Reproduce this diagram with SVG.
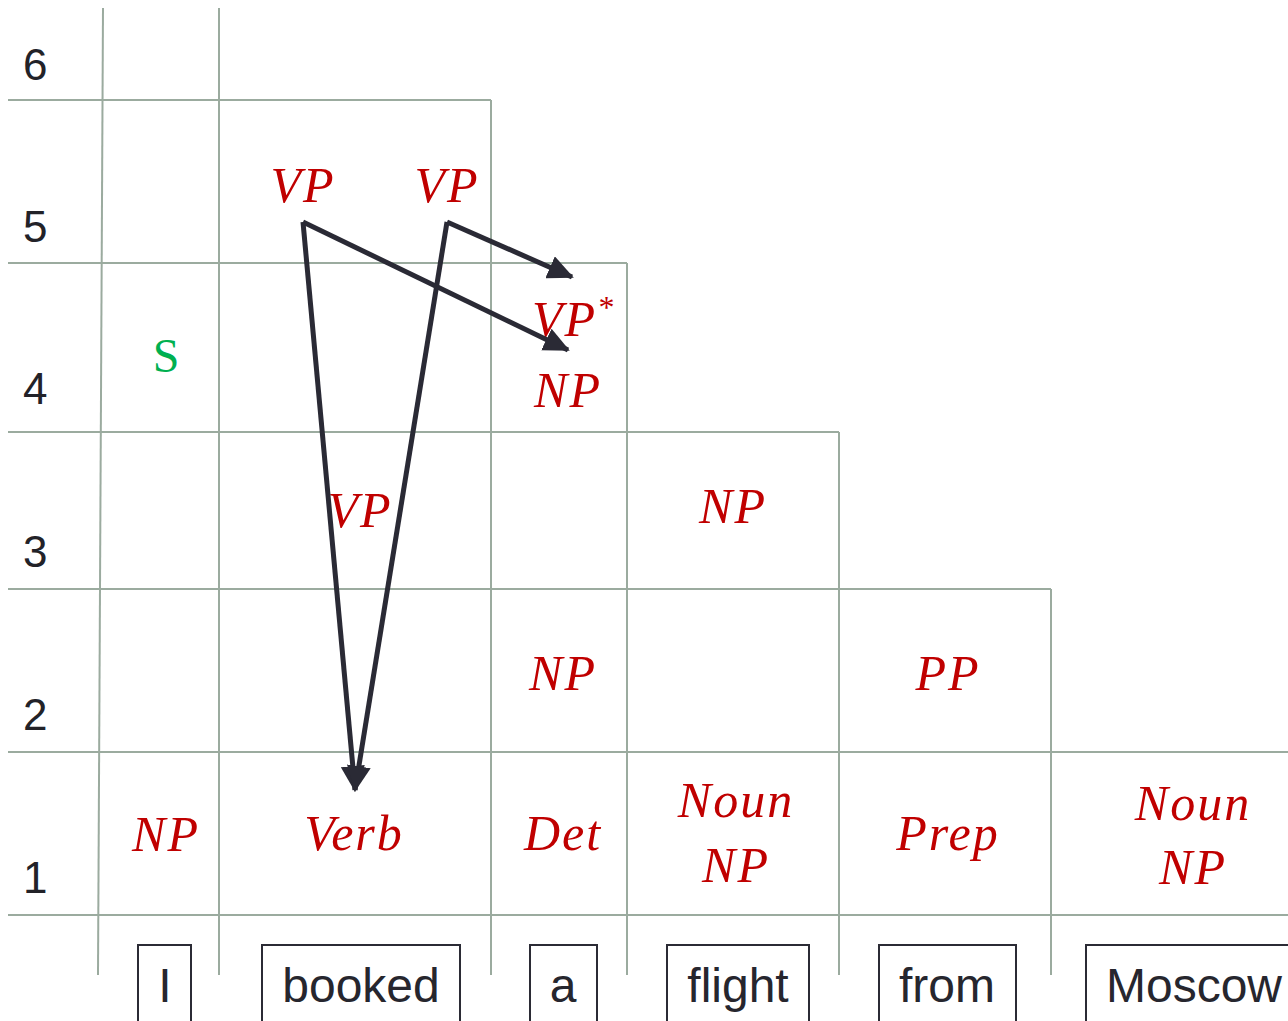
<svg xmlns="http://www.w3.org/2000/svg" width="1288" height="1021" viewBox="0 0 1288 1021">
<defs>
<style>
.g{stroke:#9bab9f;stroke-width:2;fill:none}
.num{font-family:"Liberation Sans",Arial,sans-serif;font-size:44px;fill:#222228}
.lab{font-family:"Liberation Serif","DejaVu Serif",serif;font-style:italic;font-size:50px;fill:#c00000;text-anchor:middle;letter-spacing:2px}
.w{font-family:"Liberation Sans",Arial,sans-serif;font-size:48px;fill:#26262e;text-anchor:middle}
.box{fill:none;stroke:#2b2b35;stroke-width:2}
.arr{stroke:#2a2a35;stroke-width:5;fill:none}
</style>
<marker id="ah" markerUnits="userSpaceOnUse" markerWidth="28" markerHeight="24" refX="24" refY="12" orient="auto" viewBox="0 0 28 24">
<path d="M0,0 L26,12 L0,24 z" fill="#2a2a35"/>
</marker>
</defs>
<rect width="1288" height="1021" fill="#fff"/>
<g id="grid">
<line class="g" x1="103" y1="8" x2="98" y2="975"/>
<line class="g" x1="219" y1="8" x2="219" y2="975"/>
<line class="g" x1="491" y1="100" x2="491" y2="975"/>
<line class="g" x1="627" y1="263" x2="627" y2="975"/>
<line class="g" x1="839" y1="432" x2="839" y2="975"/>
<line class="g" x1="1051" y1="589" x2="1051" y2="975"/>
<line class="g" x1="8" y1="100" x2="491" y2="100"/>
<line class="g" x1="8" y1="263" x2="627" y2="263"/>
<line class="g" x1="8" y1="432" x2="839" y2="432"/>
<line class="g" x1="8" y1="589" x2="1051" y2="589"/>
<line class="g" x1="8" y1="752" x2="1288" y2="752"/>
<line class="g" x1="8" y1="915" x2="1288" y2="915"/>
</g>
<g id="rows">
<text class="num" x="23" y="80">6</text>
<text class="num" x="23" y="242">5</text>
<text class="num" x="23" y="404">4</text>
<text class="num" x="23" y="567">3</text>
<text class="num" x="23" y="730">2</text>
<text class="num" x="23" y="893">1</text>
</g>
<g id="words">
<g id="w-I"><rect class="box" x="138" y="945" width="53" height="90"/><text class="w" x="165" y="1002">I</text></g>
<g id="w-booked"><rect class="box" x="262" y="945" width="198" height="90"/><text class="w" x="361" y="1002">booked</text></g>
<g id="w-a"><rect class="box" x="530" y="945" width="67" height="90"/><text class="w" x="563" y="1002">a</text></g>
<g id="w-flight"><rect class="box" x="667" y="945" width="142" height="90"/><text class="w" x="738" y="1002">flight</text></g>
<g id="w-from"><rect class="box" x="879" y="945" width="137" height="90"/><text class="w" x="947" y="1002">from</text></g>
<g id="w-Moscow"><rect class="box" x="1086" y="945" width="220" height="90"/><text class="w" x="1194" y="1002">Moscow</text></g>
</g>
<g id="cells">
<text id="vp5a" class="lab" x="303" y="202">VP</text>
<text id="vp5b" class="lab" x="447" y="202">VP</text>
<text id="vpstar" class="lab" x="532" y="336" style="text-anchor:start">VP<tspan font-size="32" dy="-18">*</tspan></text>
<text id="np4" class="lab" x="568" y="407">NP</text>
<text id="s4" x="166" y="372" font-family="Liberation Serif,serif" font-size="48" fill="#00b050" text-anchor="middle">S</text>
<text id="vp3" class="lab" x="360" y="527">VP</text>
<text id="np3" class="lab" x="733" y="523">NP</text>
<text id="np2" class="lab" x="563" y="690">NP</text>
<text id="pp2" class="lab" x="948" y="690">PP</text>
<text id="np1" class="lab" x="166" y="851">NP</text>
<text id="verb1" class="lab" x="354" y="850">Verb</text>
<text id="det1" class="lab" x="563" y="850">Det</text>
<text id="noun1a" class="lab" x="736" y="817">Noun</text>
<text id="np1a" class="lab" x="736" y="882">NP</text>
<text id="prep1" class="lab" x="948" y="850">Prep</text>
<text id="noun1b" class="lab" x="1193" y="820">Noun</text>
<text id="np1b" class="lab" x="1193" y="884">NP</text>
</g>
<g id="connectors">
<line class="arr" x1="303" y1="222" x2="355" y2="790" marker-end="url(#ah)"/>
<line class="arr" x1="447" y1="222" x2="355" y2="790" marker-end="url(#ah)"/>
<line class="arr" x1="303" y1="222" x2="568" y2="350" marker-end="url(#ah)"/>
<line class="arr" x1="447" y1="222" x2="572" y2="277" marker-end="url(#ah)"/>
</g>
</svg>
